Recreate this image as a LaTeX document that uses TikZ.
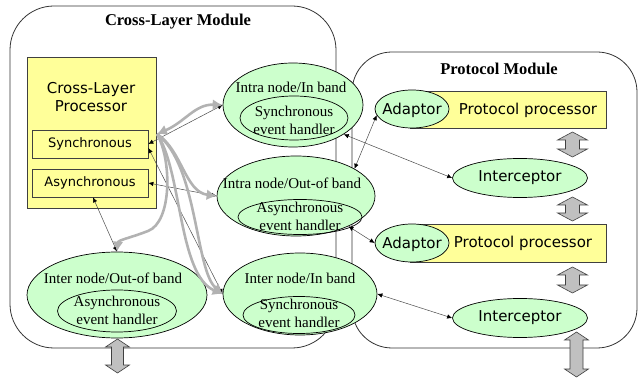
\documentclass[tikz,border=0pt]{standalone}
\usepackage{fontspec}
\setmainfont{Liberation Serif}
\setsansfont{DejaVu Sans}
\usetikzlibrary{shapes.geometric,arrows.meta}
\definecolor{procyellow}{HTML}{FFFF99}
\definecolor{evgreen}{HTML}{CCFFCC}
\definecolor{blockgray}{HTML}{C0C0C0}
% fat two-way arrow: centre x, top y, bottom y, head half width, shaft half width
\newcommand{\blockupdown}[5]{%
  \draw[blockarrow] (#1,#2) -- (#1+#4,#2+8) -- (#1+#5,#2+8) -- (#1+#5,#3-8)
    -- (#1+#4,#3-8) -- (#1,#3) -- (#1-#4,#3-8) -- (#1-#5,#3-8)
    -- (#1-#5,#2+8) -- (#1-#4,#2+8) -- cycle;}

\begin{document}
\begin{tikzpicture}[x=1pt,y=-1pt,
    module/.style={draw=black!80, line width=0.8pt, rounded corners=44pt, inner sep=0pt},
    modtitle/.style={font=\fontsize{16.5}{18}\selectfont\bfseries},
    procbox/.style={draw=black!75, fill=procyellow, line width=0.7pt, inner sep=0pt},
    evt/.style={ellipse, draw=black, fill=evgreen, line width=0.7pt, inner sep=0pt},
    handler/.style={ellipse, draw=black, line width=0.7pt, inner sep=0pt},
    evtitle/.style={font=\fontsize{15}{18}\selectfont, align=center, inner sep=0pt},
    sanslbl/.style={font=\sffamily\fontsize{15}{18}\selectfont, align=center, inner sep=0pt},
    link/.style={draw=black!70, line width=0.5pt,
      {Latex[length=5pt,width=4.5pt,color=black]}-{Latex[length=5pt,width=4.5pt,color=black]}},
    feed/.style={draw=black!30, line width=2.6pt, -{Latex[length=10pt,width=11pt]}},
    blockarrow/.style={draw=black!75, fill=blockgray, line width=0.6pt}
  ]
  \useasboundingbox (0,0) rectangle (640,379);

  % modules
  \node[module, minimum width=326pt, minimum height=342pt] (xlm) at (173,177) {};
  \node[modtitle] (xlmtitle) at (178,22) {Cross-Layer Module};
  \node[module, rounded corners=40pt, minimum width=285pt, minimum height=296pt] (pm) at (494.5,200) {};
  \node[modtitle] (pmtitle) at (499,69) {Protocol Module};

  % cross-layer processor
  \node[procbox, minimum width=129pt, minimum height=151pt] (xlp) at (91.5,132.5) {};
  \node[sanslbl] (xlplbl) at (91,97) {Cross-Layer\\Processor};
  \node[procbox, minimum width=116pt, minimum height=28pt,
    font=\sffamily\fontsize{13}{15}\selectfont] (sync) at (90,144) {Synchronous};
  \node[procbox, minimum width=116pt, minimum height=28pt,
    font=\sffamily\fontsize{13}{15}\selectfont] (async) at (90,183) {Asynchronous};

  % event handlers
  \node[evt, minimum width=140pt, minimum height=84pt] (intraIn) at (293,105) {};
  \node[evtitle] (intraInlbl) at (291,87) {Intra node/In band};
  \node[handler, minimum width=108pt, minimum height=44pt] (intraInH) at (294,118) {};
  \node[evtitle] (intraInHlbl) at (294,120) {Synchronous\\event handler};

  \node[evt, minimum width=158pt, minimum height=80pt] (intraOut) at (296,196) {};
  \node[evtitle] (intraOutlbl) at (292,183) {Intra node/Out-of band};
  \node[handler, minimum width=124pt, minimum height=35pt] (intraOutH) at (300,217) {};
  \node[evtitle] (intraOutHlbl) at (300,216) {Asynchronous\\event handler};

  \node[evt, minimum width=154pt, minimum height=82pt] (interIn) at (300,294) {};
  \node[evtitle] (interInlbl) at (300,278) {Inter node/In band};
  \node[handler, minimum width=112pt, minimum height=37pt] (interInH) at (299,315) {};
  \node[evtitle] (interInHlbl) at (299,313) {Synchronous\\event handler};

  \node[evt, minimum width=180pt, minimum height=86pt] (interOut) at (117,295) {};
  \node[evtitle] (interOutlbl) at (113,278) {Inter node/Out-of band};
  \node[handler, minimum width=119pt, minimum height=42pt] (interOutH) at (117,311) {};
  \node[evtitle] (interOutHlbl) at (117,310) {Asynchronous\\event handler};

  % protocol side
  \node[procbox, minimum width=196pt, minimum height=37pt] (pp1) at (508,109.5) {};
  \node[evt, minimum width=74pt, minimum height=38pt] (adapt1) at (412,109) {};
  \node[sanslbl] (adapt1lbl) at (412,110) {Adaptor};
  \node[sanslbl] (pp1lbl) at (528,110) {Protocol processor};
  \node[evt, minimum width=135pt, minimum height=39pt] (icpt1) at (520,178) {};
  \node[sanslbl] (icpt1lbl) at (520,178) {Interceptor};

  \node[procbox, minimum width=196pt, minimum height=38pt] (pp2) at (508,243) {};
  \node[evt, minimum width=74pt, minimum height=38pt] (adapt2) at (412,243) {};
  \node[sanslbl] (adapt2lbl) at (412,244) {Adaptor};
  \node[sanslbl] (pp2lbl) at (523,243) {Protocol processor};
  \node[evt, minimum width=135pt, minimum height=39pt] (icpt2) at (520,318) {};
  \node[sanslbl] (icpt2lbl) at (520,318) {Interceptor};

  % thin two-way links
  \draw[link] (sync.east) -- (intraIn.west);
  \draw[link] ([yshift=-4pt]sync.east) -- (interIn.west);
  \draw[link] (async.east) -- (intraOut.west);
  \draw[link] ([xshift=3pt]async.south) -- (interOut.north);
  \draw[link] (intraIn.-30) -- (icpt1.west);
  \draw[link] (adapt1.190) -- (intraOut.25);
  \draw[link] (intraOut.-30) -- (adapt2.west);
  \draw[link] (interIn.east) -- (icpt2.west);

  % grey feeds out of the synchronous part
  \coordinate (hub) at (157,134);
  \draw[feed, {Latex[length=10pt,width=11pt]}-{Latex[length=10pt,width=11pt]}]
    (hub) .. controls (185,122) and (195,104) .. (intraIn.west);
  \draw[feed] (hub) .. controls (182,150) and (185,192) .. (intraOut.west);
  \draw[feed] (hub) .. controls (172,160) and (172,222) .. (148,231)
    .. controls (130,238) and (118,240) .. (interOut.north);
  \draw[feed] (hub) .. controls (182,170) and (178,275) .. (interIn.west);
  \draw[feed] (hub) .. controls (198,165) and (195,270) .. (interIn.west);

  % fat arrows
  \blockupdown{572.5}{132}{157}{15}{7}
  \blockupdown{572.5}{197}{221}{15}{7}
  \blockupdown{572.5}{267}{293}{15}{7}
  \blockupdown{576.5}{332}{377}{12}{6.5}
  \blockupdown{117.5}{339}{373}{12}{6}
\end{tikzpicture}
\end{document}
